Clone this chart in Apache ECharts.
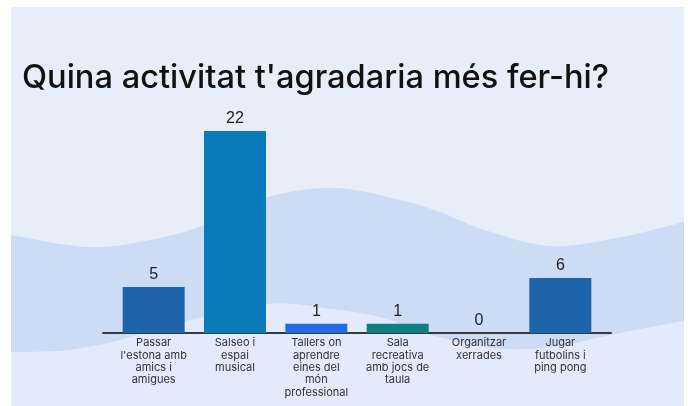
<!DOCTYPE html>
<html>
<head>
<meta charset="utf-8">
<script src="https://cdn.jsdelivr.net/npm/echarts@6/dist/echarts.min.js"></script>
<style>
  html, body { margin: 0; padding: 0; background: #fff; }
  #chart { width: 688px; height: 406px; }
</style>
</head>
<body>
<div id="chart"></div>
<script>
// data
const categories = [
    'Passar\nl\'estona amb\namics i\namigues',
    'Salseo i\nespai\nmusical',
    'Tallers on\naprendre\neines del\nmón\nprofessional',
    'Sala\nrecreativa\namb jocs de\ntaula',
    'Organitzar\nxerrades',
    'Jugar\nfutbolins i\nping pong'
];
const votes = [5, 22, 1, 1, 0, 6];
const barColors = ['#1e64ab', '#0a7bba', '#2469e6', '#0f7f86', '#1e64ab', '#1d64ab'];

// background wave outlines (decoration only)
const waveTop = [[11, 235], [88, 247], [150, 240], [205, 225], [268, 197], [335, 188], [400, 200], [440, 212], [485, 230], [550, 246], [617, 238], [684, 222]];
const waveBottom = [[11, 352], [60, 351], [100, 345], [120, 340], [190, 320], [270, 304], [330, 309], [383, 318], [430, 335], [500, 349], [560, 346], [597, 338], [647, 328], [684, 321]];

function sampleCurve(pts) {
    // catmull-rom through the points, sampled into a polyline
    const out = [];
    for (let i = 0; i < pts.length - 1; i++) {
        const p0 = pts[Math.max(i - 1, 0)], p1 = pts[i], p2 = pts[i + 1], p3 = pts[Math.min(i + 2, pts.length - 1)];
        for (let k = 0; k < 12; k++) {
            const t = k / 12, t2 = t * t, t3 = t2 * t;
            const f = function (a, b, c, d) {
                return 0.5 * ((2 * b) + (-a + c) * t + (2 * a - 5 * b + 4 * c - d) * t2 + (-a + 3 * b - 3 * c + d) * t3);
            };
            out.push([f(p0[0], p1[0], p2[0], p3[0]), f(p0[1], p1[1], p2[1], p3[1])]);
        }
    }
    out.push(pts[pts.length - 1]);
    return out;
}
const topLine = sampleCurve(waveTop);
const bottomLine = sampleCurve(waveBottom);
const bandPoints = topLine.concat(bottomLine.slice().reverse());
const lowPoints = bottomLine.concat([[684, 406], [11, 406]]);

const chart = echarts.init(document.getElementById('chart'));
chart.setOption({
    animation: false,
    graphic: [
        { type: 'rect', z: -10, silent: true, shape: { x: 11, y: 7, width: 673, height: 399 }, style: { fill: '#e7eefa' } },
        { type: 'polygon', z: -9, silent: true, shape: { points: bandPoints }, style: { fill: '#cddcf5' } },
        { type: 'polygon', z: -9, silent: true, shape: { points: lowPoints }, style: { fill: '#e3eafc' } }
    ],
    title: {
        text: 'Quina activitat t\'agradaria més fer-hi?',
        left: 17,
        top: 57,
        textStyle: {
            fontFamily: 'Inter',
            fontSize: 32.6,
            fontWeight: 500,
            color: '#111'
        }
    },
    grid: [
        { left: 103, right: 77, top: 131, bottom: 73 },
        { left: 113, right: 87, top: 131, bottom: 73 }
    ],
    xAxis: [
        {
            type: 'value',
            gridIndex: 0,
            axisLine: { show: true, onZero: false, lineStyle: { color: '#3a3a3a', width: 2 } },
            axisTick: { show: false },
            axisLabel: { show: false },
            splitLine: { show: false }
        },
        {
            type: 'category',
            gridIndex: 1,
            data: categories,
            axisLine: { show: false },
            axisTick: { show: false },
            axisLabel: {
                interval: 0,
                margin: 4,
                fontFamily: 'Inter',
                fontSize: 11,
                lineHeight: 12.3,
                color: '#333'
            }
        }
    ],
    yAxis: [
        { type: 'value', gridIndex: 0, show: false },
        { type: 'value', gridIndex: 1, min: 0, max: 22, show: false }
    ],
    series: [
        {
            type: 'bar',
            xAxisIndex: 1,
            yAxisIndex: 1,
            barWidth: 62,
            data: votes.map(function (v, i) {
                return { value: v, itemStyle: { color: barColors[i] } };
            }),
            label: {
                show: true,
                position: 'top',
                distance: 4,
                fontFamily: 'Liberation Sans',
                fontSize: 16,
                color: '#222'
            }
        }
    ]
});
</script>
</body>
</html>
